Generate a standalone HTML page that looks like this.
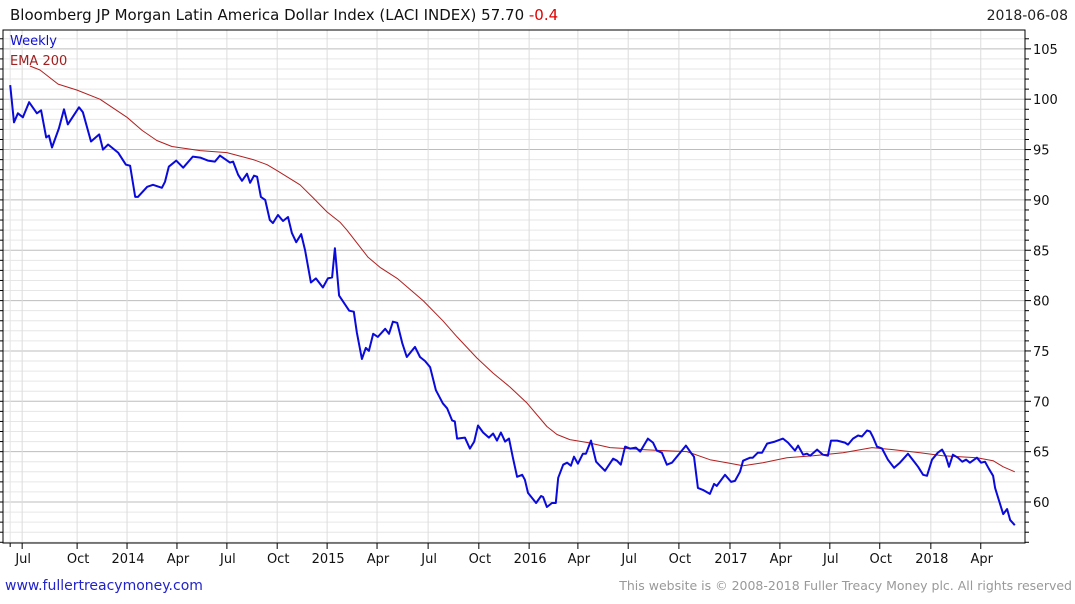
<!DOCTYPE html>
<html><head><meta charset="utf-8">
<style>
html,body{margin:0;padding:0;background:#fff;}
body{width:1075px;height:600px;position:relative;overflow:hidden;font-family:"DejaVu Sans","Liberation Sans",sans-serif;}
svg text{font-family:"DejaVu Sans","Liberation Sans",sans-serif;}
</style></head>
<body>
<svg id="chart" width="1075" height="600" xmlns="http://www.w3.org/2000/svg">
<text x="10" y="20" font-size="15" fill="#111">Bloomberg JP Morgan Latin America Dollar Index (LACI INDEX) 57.70 <tspan fill="#e00000">-0.4</tspan></text>
<text x="1068" y="20" font-size="14" fill="#222" text-anchor="end">2018-06-08</text>
<g id="grid"></g>
<g id="series"></g>
<rect x="3" y="30" width="1022" height="513" fill="none" stroke="#000" stroke-width="1"/>
<text x="10" y="45" font-size="13" fill="#1010d0">Weekly</text>
<text x="10" y="65" font-size="13" fill="#a02020">EMA 200</text>
<g id="axes"></g>
<text x="5" y="590" font-size="14" fill="#2222cc">www.fullertreacymoney.com</text>
<text x="1072" y="590" font-size="12.5" fill="#999" text-anchor="end">This website is © 2008-2018 Fuller Treacy Money plc. All rights reserved</text>
</svg>
<script>
const weeks=[0.3,1.3,2.3,3.6,5.2,7.2,8.3,9.6,10.3,11.1,12.9,14.2,15.2,18.1,19.1,21.2,23.3,24.3,25.6,28.2,30.2,31.3,32.6,33.3,35.7,37.2,39.5,40.3,41.3,43.2,45.0,47.5,49.4,51.4,53.2,54.5,57.1,57.9,59.2,60.2,61.5,62.3,63.3,64.1,65.1,66.2,67.4,68.2,69.5,70.8,72.1,73.1,74.2,75.5,76.5,78.0,79.3,81.1,82.4,83.5,84.2,85.3,87.9,89.1,89.9,91.2,92.2,93.0,94.1,95.3,97.2,98.2,99.2,100.3,101.6,102.8,104.9,106.2,107.5,108.8,110.3,112.1,113.2,114.5,115.2,115.8,117.8,119.1,120.2,121.2,122.5,124.0,125.1,126.1,127.1,128.2,129.2,130.2,131.3,132.6,133.3,134.1,136.2,137.5,138.0,139.0,140.3,141.3,141.9,143.2,144.2,145.2,146.0,147.0,148.3,149.1,150.4,151.7,152.7,154.0,156.1,157.1,158.1,159.2,160.5,162.0,163.1,165.1,166.4,167.4,168.7,170.0,171.3,173.4,174.9,176.2,177.0,178.0,179.3,181.1,182.2,182.9,185.0,186.6,187.6,188.9,189.7,191.5,192.2,193.5,194.6,195.9,197.9,200.0,201.3,203.1,203.9,205.2,206.2,207.0,208.8,210.3,211.6,212.4,214.0,216.0,216.8,218.1,219.4,220.4,221.7,222.5,223.3,224.3,225.6,227.1,228.7,230.2,232.3,234.1,234.9,236.2,237.2,238.5,240.0,241.1,242.1,242.9,243.9,245.2,246.3,247.3,248.3,250.1,251.2,252.2,253.2,254.3,254.8,255.6,256.9,257.9,258.7,259.9];
const weekly=[101.4,97.7,98.6,98.2,99.7,98.6,98.9,96.2,96.4,95.2,97.1,99.0,97.5,99.2,98.7,95.8,96.5,95.0,95.5,94.7,93.5,93.4,90.3,90.3,91.3,91.5,91.2,91.8,93.3,93.9,93.2,94.3,94.2,93.9,93.8,94.4,93.7,93.8,92.5,91.9,92.6,91.7,92.4,92.3,90.3,90.0,88.0,87.7,88.5,87.9,88.3,86.7,85.8,86.6,85.0,81.8,82.2,81.3,82.2,82.3,85.2,80.5,79.0,78.9,76.8,74.2,75.3,75.0,76.7,76.4,77.2,76.7,77.9,77.8,75.8,74.4,75.4,74.4,74.0,73.4,71.1,69.8,69.3,68.1,68.0,66.3,66.4,65.3,66.0,67.6,66.9,66.4,66.8,66.1,66.9,66.0,66.3,64.4,62.5,62.7,62.2,60.9,59.9,60.6,60.5,59.5,59.9,59.9,62.4,63.7,63.9,63.6,64.5,63.8,64.8,64.8,66.1,64.0,63.6,63.1,64.3,64.1,63.7,65.5,65.3,65.4,65.0,66.3,65.9,65.1,64.9,63.7,63.9,64.9,65.6,64.9,64.5,61.4,61.2,60.8,61.8,61.6,62.7,62.0,62.1,63.0,64.1,64.4,64.4,64.9,64.9,65.8,66.0,66.3,65.9,65.1,65.6,64.7,64.8,64.6,65.2,64.7,64.6,66.1,66.1,65.9,65.7,66.3,66.6,66.5,67.1,67.0,66.4,65.5,65.3,64.2,63.4,63.9,64.8,63.9,63.5,62.7,62.6,64.2,64.9,65.2,64.5,63.5,64.7,64.4,64.0,64.2,63.9,64.4,63.9,64.0,63.3,62.6,61.4,60.4,58.8,59.3,58.2,57.7];
const emaWeeks=[5.4,8.0,12.7,17.6,23.5,30.5,34.4,38.2,42.1,49.4,56.3,63.1,66.7,69.3,75.2,78.6,82.2,85.5,87.3,92.8,95.9,100.3,107.0,112.1,115.8,120.9,125.1,129.5,133.9,139.0,141.6,144.9,149.6,155.3,163.8,169.0,175.2,181.1,185.5,189.7,194.8,201.0,207.8,215.5,223.0,228.4,235.4,241.3,250.1,254.3,256.9,259.9];
const ema200=[103.3,102.9,101.5,100.9,100.0,98.2,96.9,95.9,95.3,94.9,94.7,94.0,93.5,92.9,91.5,90.2,88.8,87.8,87.0,84.3,83.3,82.2,80.0,78.0,76.4,74.3,72.8,71.4,69.8,67.5,66.7,66.2,65.9,65.4,65.2,65.1,65.0,64.2,63.9,63.6,63.9,64.4,64.6,64.9,65.4,65.2,64.9,64.6,64.4,64.1,63.5,63.0];
const xTickLabels=["Jul","Oct","2014","Apr","Jul","Oct","2015","Apr","Jul","Oct","2016","Apr","Jul","Oct","2017","Apr","Jul","Oct","2018","Apr"];
const xTickWeeks=[3.4,17.6,30.5,43.4,56.3,69.3,82.2,95.1,108.3,121.4,134.4,147.0,160.0,173.1,186.3,199.2,212.1,225.0,238.2,251.1];
const yTickLabels=[60,65,70,75,80,85,90,95,100,105];

const NS="http://www.w3.org/2000/svg";
const X0=3,X1=1025,Y0=30,Y1=543;
function xs(w){return 9+w*3.87;}
function ys(v){return 502-(v-60)*10.07;}
function mk(tag,attrs,parent){const e=document.createElementNS(NS,tag);for(const k in attrs)e.setAttribute(k,attrs[k]);parent.appendChild(e);return e;}
const grid=document.getElementById('grid'),axes=document.getElementById('axes'),series=document.getElementById('series');
for(let v=56;v<=106;v++){
  const y=ys(v); if(y<Y0||y>Y1) continue;
  const major=v%5===0;
  const l=mk('line',{x1:X0,x2:X1,y1:y,y2:y,stroke:major?'#bdbdbd':'#e6e6e6','stroke-width':1},grid);
  
  
  const t=mk('line',{x1:X1,x2:X1+(major?6:4),y1:y,y2:y,stroke:'#000'},axes);
  
  
  const t2=mk('line',{x1:X0,x2:X0-3,y1:y,y2:y,stroke:'#000'},axes);
  
  
}
yTickLabels.forEach(v=>{
  const t=mk('text',{x:1033,y:ys(v)+5,'font-size':13,fill:'#111'},axes);
  t.textContent=v;
  
  
});
{
  const x=xs(0.3);
  const g=mk('line',{x1:x,x2:x,y1:Y0,y2:Y1,stroke:'#e4e4e4'},grid);
  
  
  const t=mk('line',{x1:x,x2:x,y1:Y1,y2:Y1+4,stroke:'#000'},axes);
  
  
}
xTickLabels.forEach((lab,i)=>{
  const x=xs(xTickWeeks[i]);
  const g=mk('line',{x1:x,x2:x,y1:Y0,y2:Y1,stroke:'#dcdcdc'},grid);
  
  
  const t=mk('line',{x1:x,x2:x,y1:Y1,y2:Y1+6,stroke:'#000'},axes);
  
  
  const tx=mk('text',{x:x+1,y:563,'font-size':13,fill:'#111','text-anchor':'middle'},axes);
  tx.textContent=lab;
  
  
});
function path(ws,vs,color,w,name){
  let d='';ws.forEach((wk,i)=>{d+=(i?'L':'M')+xs(wk).toFixed(1)+','+ys(vs[i]).toFixed(1);});
  const p=mk('path',{d:d,fill:'none',stroke:color,'stroke-width':w,'stroke-linejoin':'round'},series);
  
  
}
path(emaWeeks,ema200,'#b02020',1,'ema-200-line');
path(weeks,weekly,'#0a0adc',2,'weekly-line');
</script>
</body></html>
